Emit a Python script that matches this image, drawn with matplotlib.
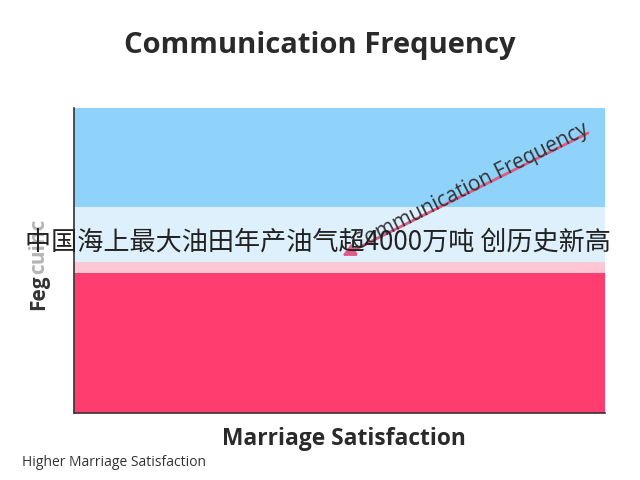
import matplotlib
matplotlib.use("Agg")
import matplotlib.pyplot as plt

# data
band_bounds = [0.0, 0.46, 0.495, 0.675, 1.0]
band_colors = ["#ff3d6e", "#fdc6d4", "#ddf0fc", "#8fd3fb"]
arrow_start = (0.968, 0.918)
arrow_end = (0.505, 0.515)
title = "Communication Frequency"
arrow_label = "Communication Frequency"
xlabel = "Marriage Satisfaction"
ylabel_dark = "Feg"
ylabel_light = "cuinc"
footnote = "Higher Marriage Satisfaction"
caption = "中国海上最大油田年产油气超4000万吨 创历史新高"

plt.rcParams['font.family'] = ['Open Sans', 'DejaVu Sans']

fig = plt.figure(figsize=(6.4, 4.8), dpi=100)
ax = fig.add_axes([0.1156, 0.1396, 0.8297, 0.6354])
ax.set_xlim(0, 1)
ax.set_ylim(0, 1)
for lo, hi, c in zip(band_bounds[:-1], band_bounds[1:], band_colors):
    ax.axhspan(lo, hi, color=c, lw=0)

for s in ["top", "right"]:
    ax.spines[s].set_visible(False)
for s in ["left", "bottom"]:
    ax.spines[s].set_color("#333333")
    ax.spines[s].set_linewidth(1.2)
ax.set_xticks([])
ax.set_yticks([])

ax.annotate("", xy=arrow_end, xytext=arrow_start, xycoords="axes fraction",
            arrowprops=dict(arrowstyle="-|>", color="#e05a86", lw=2,
                            mutation_scale=18, shrinkA=0, shrinkB=0))
ax.text(0.748, 0.742, arrow_label, transform=ax.transAxes, rotation=26.7,
        rotation_mode="anchor", ha="center", va="center", fontsize=15,
        color="#333333")

fig.text(0.5, 0.905, title, ha="center", va="center", fontsize=21,
         fontweight="bold", color="#2a2a2a")
fig.text(0.538, 0.086, xlabel, ha="center", va="center", fontsize=16.4,
         fontweight="bold", color="#2a2a2a")
t1 = fig.text(0.069, 0.354, ylabel_dark, ha="left", va="baseline",
              rotation=90, rotation_mode="anchor", fontsize=15,
              fontweight="bold", color="#333333")
ax.annotate(ylabel_light, xy=(0.069, 1.0), xycoords=("figure fraction", t1),
            ha="left", va="baseline", rotation=90, rotation_mode="anchor",
            fontsize=15, fontweight="bold", color="#b5b5b5",
            annotation_clip=False)
fig.text(0.034, 0.036, footnote, ha="left", va="center", fontsize=10,
         color="#333333")
fig.text(0.039, 0.496, caption, ha="left", va="center", fontsize=18.8,
         color="#222222", family=['Noto Sans CJK SC', 'DejaVu Sans'])

fig.savefig("out.png", dpi=100)
